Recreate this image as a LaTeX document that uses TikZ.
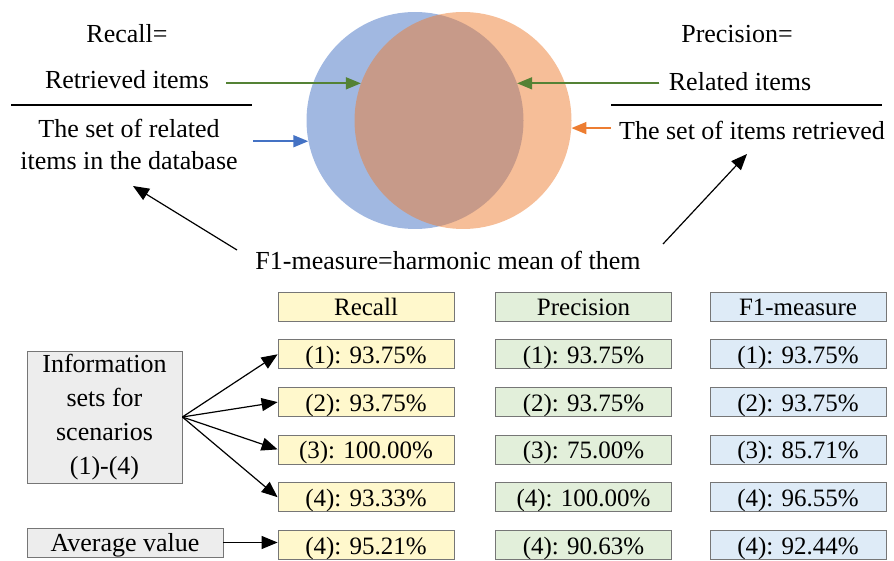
\documentclass[tikz,border=0pt]{standalone}
\usepackage{fontspec}
\setmainfont{Liberation Serif}
\usetikzlibrary{arrows.meta, positioning}

\definecolor{setblue}{HTML}{4472C4}
\definecolor{setorange}{HTML}{ED7D31}
\definecolor{setgreen}{HTML}{548235}
\definecolor{recallfill}{HTML}{FFF8CC}
\definecolor{precfill}{HTML}{E2EFDA}
\definecolor{fonefill}{HTML}{DEEBF7}
\definecolor{infofill}{HTML}{EDEDED}
\definecolor{cellline}{HTML}{767676}

\begin{document}
\begin{tikzpicture}[x = 1pt, y = -1pt,
    every node/.style = {font = \fontsize{26}{32}\selectfont},
    setcircle/.style = {circle, minimum size = 217pt, inner sep = 0pt, fill opacity = 0.5},
    cell/.style = {draw = cellline, line width = 0.8pt, minimum width = 176pt, minimum height = 29pt, inner sep = 0pt, text height = 21pt, text depth = 3pt, font = \fontsize{25}{30}\selectfont},
    recallcell/.style = {cell, fill = recallfill},
    preccell/.style = {cell, fill = precfill},
    fonecell/.style = {cell, fill = fonefill},
    infocell/.style = {cell, fill = infofill},
    arr/.style = {line width = 1.2pt, -{Triangle[length = 16pt, width = 13pt]}},
    colarr/.style = {line width = 1.7pt, draw = #1, fill = #1, -{Triangle[length = 15pt, width = 12pt]}},
    fracline/.style = {line width = 2pt}]
    \useasboundingbox (0,0) rectangle (894,561);

    % the two sets
    \node[setcircle, fill = setblue] (retrieved) at (415,120.5) {};
    \node[setcircle, fill = setorange] (related) at (463,120.5) {};

    % recall, left
    \node (recalleq) at (127,34) {Recall=};
    \node (numl) at (127,80) {Retrieved items};
    \draw[fracline] (11,105) -- (252,105);
    \node[align = center, font = \fontsize{26}{32}\selectfont] (denl) at (129,144) {The set of related\\items in the database};

    % precision, right
    \node (preceq) at (737,34) {Precision=};
    \node (numr) at (740,82) {Related items};
    \draw[fracline] (611,105) -- (882,105);
    \node (denr) at (752,130) {The set of items retrieved};

    \node (fone) at (448,260) {F1-measure=harmonic mean of them};
    \coordinate (fonel) at (237,250);
    \coordinate (foner) at (663,244);
    \coordinate (denltip) at (133,186);
    \coordinate (denrtip) at (747,154);

    \draw[colarr = setgreen] ([xshift = 14pt]numl.east |- related.160) -- (related.160);
    \draw[colarr = setblue] ([xshift = 12pt]denl.east |- retrieved.191) -- (retrieved.191);
    \draw[colarr = setgreen] ([xshift = -6pt]numr.west |- retrieved.20) -- (retrieved.20);
    \draw[colarr = setorange] ([xshift = -5pt]denr.west |- related.-4) -- (related.-4);
    \draw[arr] (fonel) -- (denltip);
    \draw[arr] (foner) -- (denrtip);

    % results
    \node[recallcell] (rechead) at (366,306.5) {Recall};
    \node[recallcell, below = 18pt of rechead] (rec1) {(1): 93.75\%};
    \node[recallcell, below = 18pt of rec1] (rec2) {(2): 93.75\%};
    \node[recallcell, below = 17.5pt of rec2] (rec3) {(3): 100.00\%};
    \node[recallcell, below = 18pt of rec3] (rec4) {(4): 93.33\%};
    \node[recallcell, below = 18pt of rec4] (recavg) {(4): 95.21\%};

    \node[preccell] (prechead) at (583.5,306.5) {Precision};
    \node[preccell, below = 18pt of prechead] (prec1) {(1): 93.75\%};
    \node[preccell, below = 18pt of prec1] (prec2) {(2): 93.75\%};
    \node[preccell, below = 17.5pt of prec2] (prec3) {(3): 75.00\%};
    \node[preccell, below = 18pt of prec3] (prec4) {(4): 100.00\%};
    \node[preccell, below = 18pt of prec4] (precavg) {(4): 90.63\%};

    \node[fonecell] (fonehead) at (798,306.5) {F1-measure};
    \node[fonecell, below = 18pt of fonehead] (fone1) {(1): 93.75\%};
    \node[fonecell, below = 18pt of fone1] (fone2) {(2): 93.75\%};
    \node[fonecell, below = 17.5pt of fone2] (fone3) {(3): 85.71\%};
    \node[fonecell, below = 18pt of fone3] (fone4) {(4): 96.55\%};
    \node[fonecell, below = 18pt of fone4] (foneavg) {(4): 92.44\%};

    \node[infocell, minimum width = 155pt, minimum height = 132pt, text height = , text depth = , align = center, font = \fontsize{26}{34}\selectfont] (info) at (104.5,417) {Information\\sets for\\scenarios\\(1)-(4)};
    \node[infocell, minimum width = 196pt, font = \fontsize{26}{32}\selectfont] (avg) at (125,542.5) {Average value};

    \draw[arr] (info.east) -- (rec1.west);
    \draw[arr] (info.east) -- (rec2.west);
    \draw[arr] (info.east) -- (rec3.west);
    \draw[arr] (info.east) -- (rec4.west);
    \draw[arr] (avg.east) -- (avg.east -| recavg.west);
\end{tikzpicture}
\end{document}
